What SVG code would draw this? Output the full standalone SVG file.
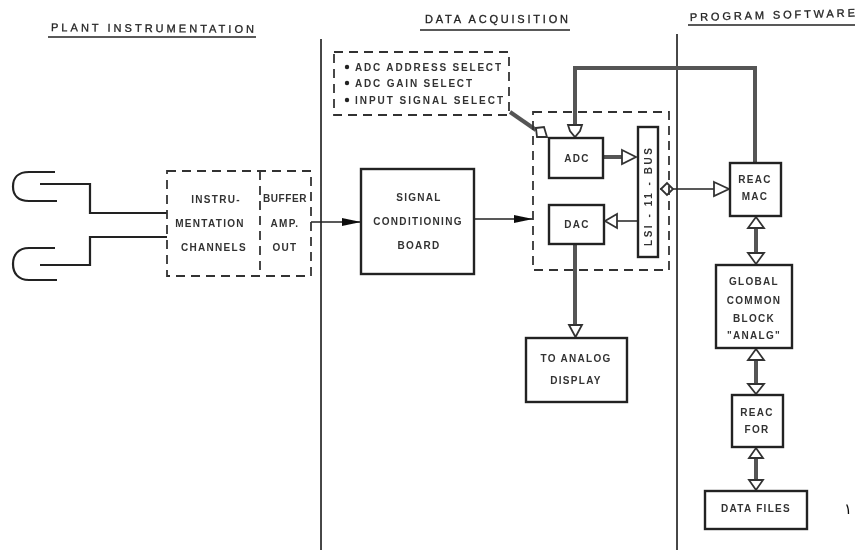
<svg xmlns="http://www.w3.org/2000/svg" width="855" height="552" viewBox="0 0 855 552">
<defs>
<filter id="soft" x="-2%" y="-2%" width="104%" height="104%"><feGaussianBlur stdDeviation="0.6"/></filter>
<marker id="solid" markerUnits="userSpaceOnUse" markerWidth="20" markerHeight="12" refX="19" refY="5" orient="auto"><path d="M0 1 L19 5 L0 9 Z" fill="#111"/></marker>
</defs>
<style>
text{font-family:"Liberation Sans",Arial,sans-serif;font-size:10px;font-weight:700;fill:#333;text-anchor:middle;letter-spacing:1.3px}
.h{font-size:11px;fill:#222;font-weight:400;stroke:#222;stroke-width:.3;letter-spacing:0}
.l{text-anchor:start;letter-spacing:0}
.box{fill:#fff;stroke:#222;stroke-width:2.4}
.dash{fill:none;stroke:#333;stroke-width:1.8;stroke-dasharray:9 6}
.ln{fill:none;stroke:#222;stroke-width:1.5}
.wire{fill:none;stroke:#222;stroke-width:2.2}
.thick{fill:none;stroke:#555;stroke-width:4}
.open{fill:#fff;stroke:#333;stroke-width:1.8}
.div{fill:none;stroke:#333;stroke-width:1.8}
</style>
<g filter="url(#soft)">
<g id="headings">
<text class="h" x="51" y="32" style="text-anchor:start" textLength="203" lengthAdjust="spacing" transform="rotate(.5 152 32)">PLANT INSTRUMENTATION</text>
<path class="ln" d="M48 37H256"/>
<text class="h" x="425" y="23" style="text-anchor:start" textLength="143" lengthAdjust="spacing">DATA ACQUISITION</text>
<path class="ln" d="M420 30H570"/>
<text class="h" x="690" y="19" style="text-anchor:start" textLength="165" lengthAdjust="spacing" transform="rotate(-1.5 765 18)">PROGRAM SOFTWARE</text>
<path class="ln" d="M688 25H855"/>
</g>
<g id="dividers">
<path class="div" d="M321 39V550"/>
<path class="div" d="M677 34V550"/>
</g>
<g id="connectors">
<path class="wire" d="M55 172H29C18 172 13 178 13 186.500C13 195 18 201 29 201H57"/>
<path class="wire" d="M40 184H90V213H167"/>
<path class="wire" d="M55 248H29C18 248 13 255 13 264C13 273 18 280 29 280H57"/>
<path class="wire" d="M40 265H90V237H167"/>
<path class="ln" d="M311 222H361" marker-end="url(#solid)"/>
<path class="ln" d="M474 219H533" marker-end="url(#solid)"/>
<path class="thick" d="M575 127V68H755V163"/>
<path class="thick" d="M510 112L536 130"/>
<path class="thick" d="M603 157H624"/>
<path class="ln" d="M638 221H616"/>
<path class="ln" d="M660 189H716"/>
<path class="thick" d="M575 244V326"/>
<path class="thick" d="M756 222V259"/>
<path class="thick" d="M756 354V389"/>
<path class="thick" d="M756 453V485"/>
<path class="open" d="M568 125H582L580 131L575 137L570 131Z"/>
<path class="open" d="M536 128L544 127L547 137L537 137Z"/>
<path class="open" d="M622 150L636 157L622 164Z"/>
<path class="open" d="M617 214L605 221L617 228Z"/>
<path class="open" d="M661 189L667 183L673 189L667 195Z"/>
<path class="open" d="M714 182L729 189L714 196Z"/>
<path class="open" d="M569 325H582L575.500 337Z"/>
<path class="open" d="M756 217L764 228H748Z"/>
<path class="open" d="M748 253H764L756 264Z"/>
<path class="open" d="M756 349L764 360H748Z"/>
<path class="open" d="M748 384H764L756 394Z"/>
<path class="open" d="M756 448L763 458H749Z"/>
<path class="open" d="M749 480H763L756 490Z"/>
</g>
<g id="instrumentation">
<rect class="dash" x="167" y="171" width="144" height="105"/>
<path class="dash" d="M260 171V276"/>
<text x="216" y="203">INSTRU-</text>
<text x="210" y="227">MENTATION</text>
<text x="214" y="251">CHANNELS</text>
<text x="285" y="202" style="letter-spacing:.6px">BUFFER</text>
<text x="285" y="227">AMP.</text>
<text x="285" y="251">OUT</text>
</g>
<g id="select">
<rect class="dash" x="334" y="52" width="175" height="63"/>
<circle cx="347" cy="67" r="2.200" fill="#222"/><circle cx="347" cy="83" r="2.200" fill="#222"/><circle cx="347" cy="100" r="2.200" fill="#222"/>
<text class="l" x="355" y="71" textLength="146" lengthAdjust="spacing">ADC ADDRESS SELECT</text>
<text class="l" x="355" y="87" textLength="117" lengthAdjust="spacing">ADC GAIN SELECT</text>
<text class="l" x="355" y="104" textLength="148" lengthAdjust="spacing">INPUT SIGNAL SELECT</text>
</g>
<g id="signal-board">
<rect class="box" x="361" y="169" width="113" height="105"/>
<text x="419" y="201">SIGNAL</text>
<text x="418" y="225">CONDITIONING</text>
<text x="419" y="249">BOARD</text>
</g>
<g id="daq">
<rect class="dash" x="533" y="112" width="136" height="158"/>
</g>
<g id="adc"><rect class="box" x="549" y="138" width="54" height="40"/><text x="577" y="162">ADC</text></g>
<g id="dac"><rect class="box" x="549" y="205" width="55" height="39"/><text x="577" y="228">DAC</text></g>
<g id="bus"><rect class="box" x="638" y="127" width="20" height="130"/><text x="0" y="0" textLength="98" lengthAdjust="spacing" style="letter-spacing:0" transform="translate(652 197) rotate(-90)">LSI - 11 - BUS</text></g>
<g id="reac-mac"><rect class="box" x="730" y="163" width="51" height="53"/><text x="755" y="183">REAC</text><text x="755" y="200">MAC</text></g>
<g id="global"><rect class="box" x="716" y="265" width="76" height="83"/><text x="754" y="285">GLOBAL</text><text x="754" y="304">COMMON</text><text x="754" y="322">BLOCK</text><text x="754" y="339">"ANALG"</text></g>
<g id="reac-for"><rect class="box" x="732" y="395" width="51" height="52"/><text x="757" y="416">REAC</text><text x="757" y="433">FOR</text></g>
<g id="data-files"><rect class="box" x="705" y="491" width="102" height="38"/><text x="756" y="512">DATA FILES</text></g>
<g id="analog"><rect class="box" x="526" y="338" width="101" height="64"/><text x="576" y="362">TO ANALOG</text><text x="576" y="384">DISPLAY</text></g>
<text x="848" y="514" style="font-family:'DejaVu Sans',sans-serif;font-size:15px;fill:#111;font-weight:400;letter-spacing:0">۱</text>
</g>
</svg>
